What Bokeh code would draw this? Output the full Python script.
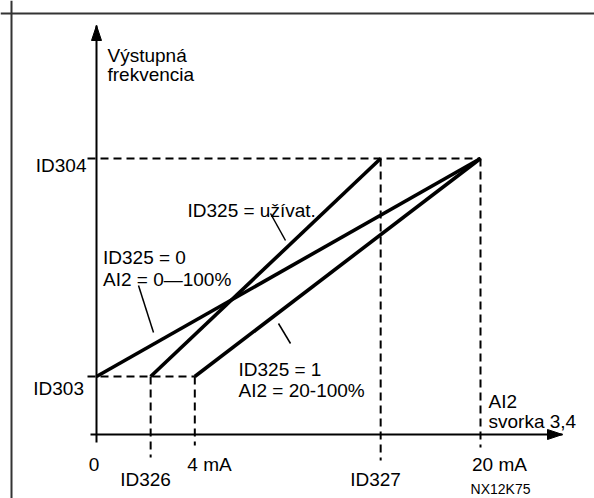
from bokeh.plotting import figure
from bokeh.models import Range1d, Span
from bokeh.core.properties import value
from bokeh.embed import file_html
from bokeh.resources import INLINE

# ---------------- data ----------------
# horizontal axis: AI2 input (0 = 0 mA, 100 = 20 mA, schematic positions)
x_tick_labels = ["0", "ID326", "4 mA", "ID327", "20 mA"]
x_tick_values = [0.0, 14.1, 25.6, 74.0, 100.0]
# vertical axis: output frequency (100 = ID304)
y_tick_labels = ["ID303", "ID304"]
y_tick_values = [21.0, 100.0]

# the three characteristic lines (start at ID303, end at ID304)
series_names = ["ID325 = 0", "ID325 = užívat.", "ID325 = 1"]
series_x_start = [0.0, 14.1, 25.6]
series_x_end = [100.0, 74.0, 100.0]
series_y_start = [21.0, 21.0, 21.0]
series_y_end = [100.0, 100.0, 100.0]

# ---------------- scale helpers (pixel layout of the page) ----------------
W, H = 594, 498
SX, SY = 3.84, 2.76          # pixels per data unit
OX, OY = 96.0, 434.0         # page pixel of the origin


def px(X):
    return (X - OX) / SX


def py(Y):
    return (OY - Y) / SY


FONT = value("Liberation Sans")
FS = "19px"

p = figure(width=W, height=H, output_backend="svg", toolbar_location=None,
           x_range=Range1d(px(0), px(W)), y_range=Range1d(py(H), py(0)),
           min_border=0, outline_line_color=None)
p.axis.visible = False
p.grid.visible = False
p.background_fill_color = "white"

# outer frame (only left and top edges visible in the window)
p.add_layout(Span(location=px(11), dimension="height", line_color="#333333", line_width=2))
p.add_layout(Span(location=py(13), dimension="width", line_color="#333333", line_width=2))

x0, xid326, x4, xid327, x20 = x_tick_values
y303, y304 = y_tick_values

# ---- dashed guide lines ----
dash = dict(line_color="black", line_width=2, line_dash="8 5")
p.segment(x0=[px(87), px(87)], y0=[y304, y303], x1=[x20, x4], y1=[y304, y303], **dash)
p.segment(x0=[xid326, x4, xid327, x20], y0=[y303, y303, y304, y304],
          x1=[xid326, x4, xid327, x20], y1=[py(457), py(445), py(460), py(447)], **dash)

# ---- axes ----
y_tip, x_tip = py(25), px(562)
p.segment(x0=[0, px(90)], y0=[py(442), 0], x1=[0, x_tip], y1=[y_tip, 0],
          line_color="black", line_width=2)
hl, hw = 15, 5  # arrow head length / half width in pixels
p.patches(xs=[[0, -hw / SX, hw / SX], [x_tip, x_tip - hl / SX, x_tip - hl / SX]],
          ys=[[y_tip, y_tip - hl / SY, y_tip - hl / SY], [0, hw / SY, -hw / SY]],
          fill_color="black", line_color="black", line_width=1)

# ---- characteristic lines ----
p.segment(x0=series_x_start, y0=series_y_start, x1=series_x_end, y1=series_y_end,
          line_color="black", line_width=3.6)

# ---- leader lines ----
p.segment(x0=[px(270), px(138), px(278)], y0=[py(213), py(285), py(323)],
          x1=[px(285), px(153), px(290)], y1=[py(240), py(332), py(343)],
          line_color="black", line_width=1.5)

# ---- texts ----
left_txt = [
    ("Výstupná", 107, 55),
    ("frekvencia", 107, 74),
    (series_names[1], 187, 210),
    (series_names[0], 102.5, 257),
    ("AI2 = 0—100%", 102.5, 279),
    (series_names[2], 238, 369),
    ("AI2 = 20-100%", 238, 389.5),
    ("AI2", 488, 400.5),
    ("svorka 3,4", 488, 420.5),
]
p.text(x=[px(t[1]) for t in left_txt], y=[py(t[2]) for t in left_txt],
       text=[t[0] for t in left_txt], text_font=FONT, text_font_size=FS,
       text_align="left", text_baseline="alphabetic", text_color="black")

# y tick labels (right aligned next to the axis)
p.text(x=[px(83.5), px(86)], y=[py(387.5), py(165)], text=y_tick_labels,
       text_font=FONT, text_font_size=FS, text_align="right",
       text_baseline="alphabetic", text_color="black")

# x tick labels (centred under their positions, two rows)
x_label_pos = [(93.5, 464), (145, 479), (209, 464), (375, 478.5), (499, 463.5)]
p.text(x=[px(a) for a, _ in x_label_pos], y=[py(b) for _, b in x_label_pos],
       text=x_tick_labels, text_font=FONT, text_font_size=FS, text_align="center",
       text_baseline="alphabetic", text_color="black")

# figure code
p.text(x=[px(500)], y=[py(488.5)], text=["NX12K75"], text_font=FONT,
       text_font_size="14px", text_align="center", text_baseline="alphabetic",
       text_color="black")

open("out.html", "w").write(file_html(p, INLINE))
